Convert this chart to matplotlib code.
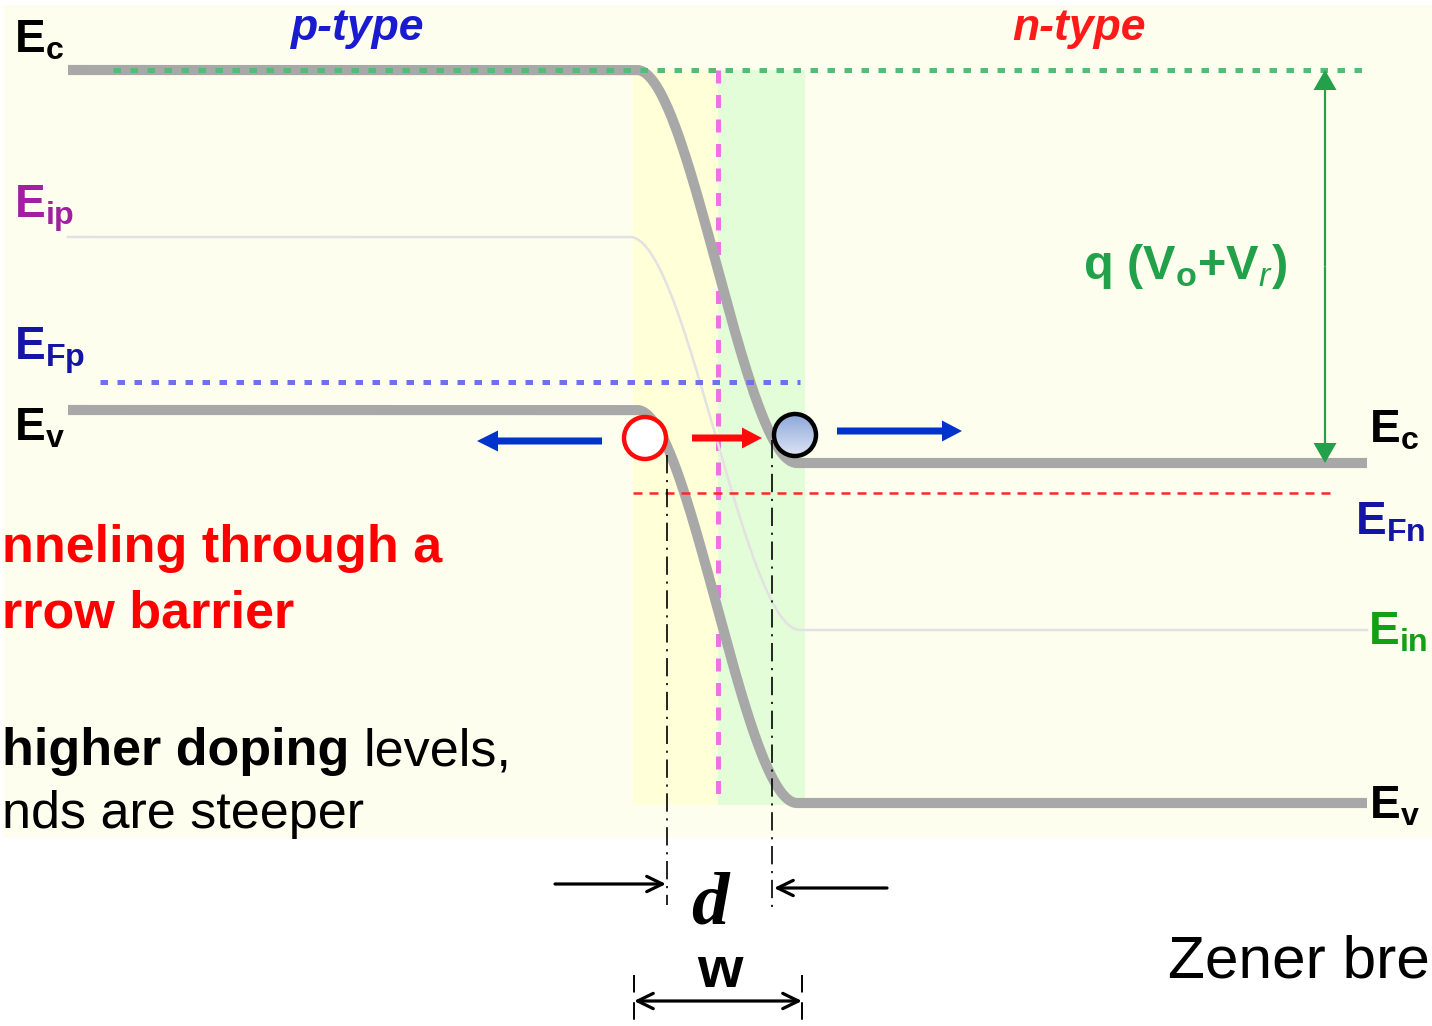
import numpy as np
import matplotlib
matplotlib.use('Agg')
import matplotlib.pyplot as plt
from matplotlib.patches import Rectangle, Circle
from matplotlib.colors import LinearSegmentedColormap

plt.rcParams['font.family'] = ['Liberation Sans', 'DejaVu Sans']
plt.rcParams['mathtext.fontset'] = 'custom'
plt.rcParams['mathtext.rm'] = 'Liberation Sans'
plt.rcParams['mathtext.bf'] = 'Liberation Sans:bold'
plt.rcParams['mathtext.it'] = 'Liberation Sans:italic'

# ---------------- data (diagram units = pixels) ----------------
band_x_span = [68, 1367]          # horizontal extent of band lines
band_bend = [637, 797]            # Ec / Ev bending region
ei_bend = [630, 800]              # Ei bending region
Ec_levels = [70, 463]             # p-side, n-side conduction band
Ev_levels = [410, 803]            # p-side, n-side valence band
Ei_levels = [237, 630]            # p-side, n-side intrinsic level
EFp_level, EFp_span = 382, [100, 800]
EFn_level, EFn_span = 493, [633, 1335]
ref_level, ref_span = 70, [113, 1368]   # green dotted reference (p-side Ec)
junction_x, junction_span = 718, [70, 805]
depletion_edges = [633, 718, 805]
depletion_y = [70, 805]
barrier_arrow_x = 1325
hole_pos, electron_pos, carrier_r = (645, 438), (795, 435), 21
d_lines = [667, 772]
d_lines_y = [[455, 905], [440, 910]]
w_edges = [634, 802]

# ---------------- figure ----------------
fig = plt.figure(figsize=(14.32, 10.26), dpi=100)
ax = fig.add_axes([0, 0, 1, 1])
ax.set_axis_off()
ax.set_xlim(0, 1432)
ax.set_ylim(1026, 0)

# backgrounds
ax.add_patch(Rectangle((3, 5), 1432, 833, facecolor='#FEFEEE', edgecolor='none', zorder=0))
ax.add_patch(Rectangle((depletion_edges[0], depletion_y[0]), depletion_edges[1] - depletion_edges[0],
                       depletion_y[1] - depletion_y[0], facecolor='#FFFFD8', edgecolor='none', zorder=1))
ax.add_patch(Rectangle((depletion_edges[1], depletion_y[0]), depletion_edges[2] - depletion_edges[1],
                       depletion_y[1] - depletion_y[0], facecolor='#E2FDD8', edgecolor='none', zorder=1))


def band(x, xb, levels):
    t = np.clip((x - xb[0]) / (xb[1] - xb[0]), 0, 1)
    s = t * t * (3 - 2 * t)
    return levels[0] + (levels[1] - levels[0]) * s


x = np.linspace(band_x_span[0], band_x_span[1], 2000)

# metallurgical junction
ax.plot([junction_x, junction_x], junction_span, color='#F070E6', lw=3.6,
        linestyle=(0, (2.6, 2.3)), zorder=2)

# Ei line
ax.plot(x, band(x, ei_bend, Ei_levels), color='#E2E2E2', lw=1.8, zorder=3)
# Ec, Ev
ax.plot(x, band(x, band_bend, Ec_levels), color='#A8A8A8', lw=7.3, solid_capstyle='butt', zorder=4)
ax.plot(x, band(x, band_bend, Ev_levels), color='#A8A8A8', lw=7.3, solid_capstyle='butt', zorder=4)

# Fermi levels and reference
ax.plot(ref_span, [ref_level, ref_level], color='#55BB77', lw=3.6, linestyle=(0, (1.5, 1.9)), zorder=5)
ax.plot(EFp_span, [EFp_level, EFp_level], color='#7070EE', lw=3.6, linestyle=(0, (1.5, 1.9)), zorder=5)
ax.plot(EFn_span, [EFn_level, EFn_level], color='#FF2828', lw=1.8, linestyle=(0, (3.6, 2.8)), zorder=5)

# dash-dot guides
for xd, yy in zip(d_lines, d_lines_y):
    ax.plot([xd, xd], yy, color='black', lw=1.2, linestyle=(0, (11, 4, 1.3, 4)), zorder=6)

# barrier height arrow (double-headed, filled)
mid = (Ec_levels[0] + Ec_levels[1]) / 2
for tip in Ec_levels:
    ax.arrow(barrier_arrow_x, mid, 0, tip - mid, width=2.2, head_width=23, head_length=20,
             length_includes_head=True, color='#22A04A', lw=0, zorder=7)

# carrier arrows
ax.arrow(602, 441, 477 - 602, 0, width=7, head_width=21, head_length=21,
         length_includes_head=True, color='#0033CC', lw=0, zorder=7)
ax.arrow(692, 438, 762 - 692, 0, width=7, head_width=21, head_length=20,
         length_includes_head=True, color='#FF0A0A', lw=0, zorder=7)
ax.arrow(837, 431, 962 - 837, 0, width=7, head_width=21, head_length=20,
         length_includes_head=True, color='#0033CC', lw=0, zorder=7)

# hole (open red) and electron (blue gradient)
ax.add_patch(Circle(hole_pos, carrier_r, facecolor='white', edgecolor='#FF0A0A', lw=3.2, zorder=8))
cmap = LinearSegmentedColormap.from_list('el', ['#8EA6DA', '#DDE5F5'])
grad = np.linspace(0, 1, 100).reshape(-1, 1)
ex, ey = electron_pos
im = ax.imshow(grad, cmap=cmap, extent=[ex - carrier_r, ex + carrier_r, ey + carrier_r, ey - carrier_r],
               origin='upper', aspect='auto', zorder=8)
clip = Circle(electron_pos, carrier_r, transform=ax.transData)
im.set_clip_path(clip)
ax.add_patch(Circle(electron_pos, carrier_r, facecolor='none', edgecolor='black', lw=3.2, zorder=9))

# d arrows (open heads)
ax.annotate('', xy=(d_lines[0] - 1, 884), xytext=(555, 884),
            arrowprops=dict(arrowstyle='->,head_length=0.45,head_width=0.22', lw=2.3, color='black',
                            shrinkA=0, shrinkB=0, mutation_scale=25))
ax.annotate('', xy=(d_lines[1] + 2, 888), xytext=(887, 888),
            arrowprops=dict(arrowstyle='->,head_length=0.45,head_width=0.22', lw=2.3, color='black',
                            shrinkA=0, shrinkB=0, mutation_scale=25))
# w arrow
ax.annotate('', xy=(w_edges[1], 1001), xytext=(w_edges[0], 1001),
            arrowprops=dict(arrowstyle='<->,head_length=0.45,head_width=0.22', lw=2.3, color='black',
                            shrinkA=0, shrinkB=0, mutation_scale=25))
for xw in w_edges:
    ax.plot([xw, xw], [975, 1026], color='black', lw=1.4, linestyle=(0, (9, 5)), zorder=6)

# ---------------- text ----------------
lab_fs = 33
ax.text(14, 52, r'$\mathbf{E_c}$', color='black', fontsize=lab_fs, va='baseline', ha='left')
ax.text(14, 217, r'$\mathbf{E_{ip}}$', color='#A020A0', fontsize=lab_fs, va='baseline', ha='left')
ax.text(14, 360, r'$\mathbf{E_{Fp}}$', color='#1515A5', fontsize=lab_fs, va='baseline', ha='left')
ax.text(14, 441, r'$\mathbf{E_v}$', color='black', fontsize=lab_fs, va='baseline', ha='left')
ax.text(1369, 443, r'$\mathbf{E_c}$', color='black', fontsize=lab_fs, va='baseline', ha='left')
ax.text(1355, 535, r'$\mathbf{E_{Fn}}$', color='#1515A5', fontsize=lab_fs, va='baseline', ha='left')
ax.text(1368, 645, r'$\mathbf{E_{in}}$', color='#14A014', fontsize=lab_fs, va='baseline', ha='left')
ax.text(1369, 818, r'$\mathbf{E_v}$', color='black', fontsize=lab_fs, va='baseline', ha='left')

ax.text(358, 40, 'p-type', color='#1A1AD0', fontsize=32, fontweight='bold', fontstyle='italic',
        ha='center', va='baseline')
ax.text(1079, 40, 'n-type', color='#FF1A1A', fontsize=32, fontweight='bold', fontstyle='italic',
        ha='center', va='baseline')

ax.text(1185, 279, r'q (V$_\mathbf{o}$+V$_{\mathit{r}}$)', color='#22A04A', fontsize=35,
        fontweight='bold', ha='center', va='baseline')

# partially visible text (as it appears in the reference crop)
ax.text(2, 562, 'nneling through a', color='#FF0000', fontsize=37.5, fontweight='bold',
        ha='left', va='baseline')
ax.text(2, 627, 'rrow barrier', color='#FF0000', fontsize=37.5, fontweight='bold',
        ha='left', va='baseline')
t1 = ax.text(2, 765, 'higher doping', color='black', fontsize=37.5, fontweight='bold',
             ha='left', va='baseline')
fig.canvas.draw()
bb = t1.get_window_extent()
x_end = ax.transData.inverted().transform((bb.x1, bb.y0))[0]
ax.text(x_end + 14, 765, 'levels,', color='black', fontsize=37.5, ha='left', va='baseline')
ax.text(2, 828, 'nds are steeper', color='black', fontsize=37.5, ha='left', va='baseline')

ax.text(710, 924, 'd', color='black', fontsize=54, fontweight='bold', fontstyle='italic',
        family='Liberation Serif', ha='center', va='baseline')
ax.text(720, 987, 'w', color='black', fontsize=42, fontweight='bold', ha='center', va='baseline')

ax.text(1168, 977, 'Zener bre', color='black', fontsize=43.5, ha='left', va='baseline')

fig.savefig('out.png', dpi=100, facecolor='white')
